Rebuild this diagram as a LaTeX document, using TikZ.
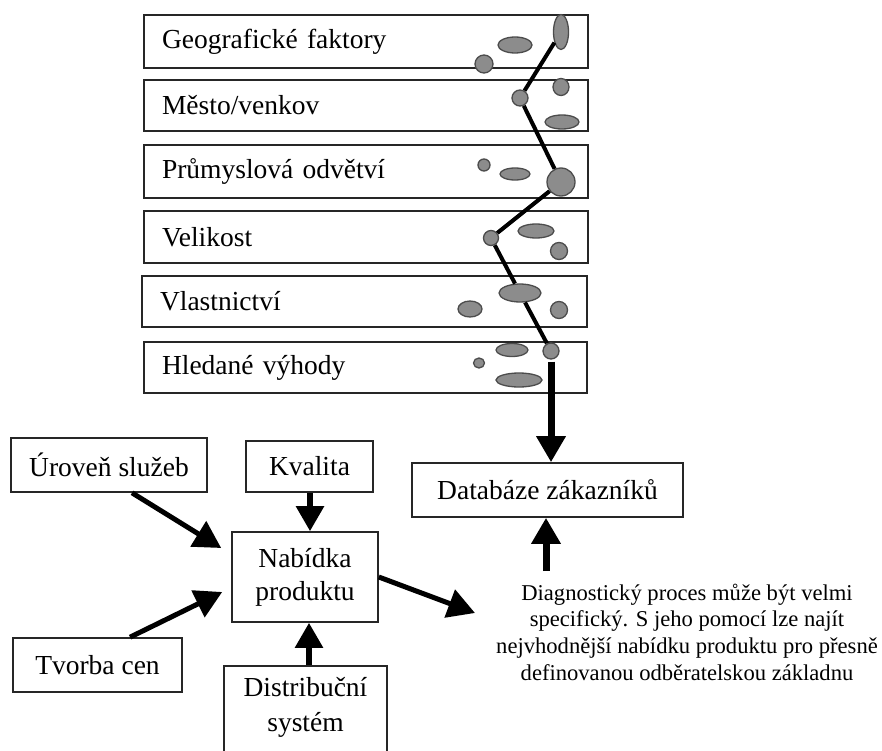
\documentclass[tikz,border=0pt]{standalone}
\usepackage{fontspec}
\setmainfont{Liberation Serif}
\usetikzlibrary{arrows.meta,shapes.geometric,calc}

\tikzset{
  box/.style={draw=black!85, line width=1.6pt, inner sep=0pt,
    font=\fontsize{27.5}{33}\selectfont, align=center},
  rowbox/.style={box, inner xsep=18pt, inner ysep=0pt, align=left},
  blob/.style={ellipse, draw=black!70, fill=black!45, line width=1.3pt,
    inner sep=0pt},
  chain/.style={line width=4pt, black},
  bigarrow/.style={line width=7pt, -{Triangle[length=26pt, width=28pt]}},
  midarrow/.style={line width=5.5pt, -{Triangle[length=25pt, width=27pt]}},
  slantarrow/.style={line width=5pt, -{Triangle[length=27pt, width=29pt]}},
  note/.style={font=\fontsize{22.6}{26.7}\selectfont, align=center}
}

\begin{document}
\begin{tikzpicture}[x=1pt, y=-1pt]
\useasboundingbox (0,0) rectangle (882,751);

% segmentation criteria
\node[rowbox, text width=408pt, minimum height=53pt] (geo) at (366,41.5) {Geografické faktory};
\node[rowbox, text width=408pt, minimum height=51pt] (mes) at (366,105.5) {Město/venkov};
\node[rowbox, text width=408pt, minimum height=53pt] (pru) at (366,171.5) {Průmyslová odvětví};
\node[rowbox, text width=408pt, minimum height=52pt] (vel) at (366,237) {Velikost};
\node[rowbox, text width=409pt, minimum height=51pt] (vla) at (364.5,301.5) {Vlastnictví};
\node[rowbox, text width=407pt, minimum height=51pt] (hle) at (365.5,367.5) {Hledané výhody};

% marks inside the criteria rows
\node[blob, minimum width=15pt, minimum height=35pt] (g1) at (561,32) {};
\node[blob, minimum width=34pt, minimum height=16pt] (g2) at (515,45) {};
\node[blob, circle, minimum size=18pt] (g3) at (484,64) {};

\node[blob, circle, minimum size=16pt] (m1) at (520,98) {};
\node[blob, minimum width=16pt, minimum height=17pt] (m2) at (561,87) {};
\node[blob, minimum width=34pt, minimum height=14pt] (m3) at (562,122) {};

\node[blob, circle, minimum size=12pt] (p1) at (484,165) {};
\node[blob, minimum width=30pt, minimum height=12pt] (p2) at (515,174) {};
\node[blob, circle, minimum size=28pt] (p3) at (561,182) {};

\node[blob, circle, minimum size=15pt] (v1) at (491,238) {};
\node[blob, minimum width=36pt, minimum height=14pt] (v2) at (536,231) {};
\node[blob, circle, minimum size=17pt] (v3) at (559,251) {};

\node[blob, minimum width=42pt, minimum height=18pt] (o1) at (520,293) {};
\node[blob, minimum width=24pt, minimum height=16pt] (o2) at (470,309) {};
\node[blob, circle, minimum size=17pt] (o3) at (559,310) {};

\node[blob, circle, minimum size=16pt] (h1) at (551,351) {};
\node[blob, minimum width=11pt, minimum height=10pt] (h2) at (479,363) {};
\node[blob, minimum width=32pt, minimum height=13pt] (h3) at (512,350) {};
\node[blob, minimum width=46pt, minimum height=14pt] (h4) at (519,380) {};

% path through the criteria
\draw[chain] (g1) -- (m1);
\draw[chain] (m1) -- (p3);
\draw[chain] (p3) -- (v1);
\draw[chain] (v1) -- (o1);
\draw[chain] (o1) -- (h1);

% customer database
\node[box, minimum width=271pt, minimum height=54pt] (db) at (547.5,490) {Databáze zákazníků};
\draw[bigarrow] ($(h1.south)+(0,2)$) -- (h1.south |- db.north);

% product offer and its inputs
\node[box, minimum width=196pt, minimum height=54pt] (uro) at (109,465) {Úroveň služeb};
\node[box, minimum width=127pt, minimum height=51pt] (kva) at (309.5,466.5) {Kvalita};
\node[box, minimum width=146pt, minimum height=90pt] (nab) at (305,577) {Nabídka\\produktu};
\node[box, minimum width=169pt, minimum height=54pt] (tvo) at (97.5,665) {Tvorba cen};
\node[box, minimum width=163pt, minimum height=100pt, anchor=north] (dis) at (305.5,665) {};
\node[font=\fontsize{27.5}{35}\selectfont, align=center] (distext) at (305.5,707) {Distribuční\\systém};

\draw[midarrow] (kva.south -| 310,0) -- (nab.north -| 310,0);
\draw[midarrow] (dis.north -| 309,0) -- (nab.south -| 309,0);
\draw[slantarrow] ($(uro.south)+(23,0)$) -- ($(nab.west)+(-10,-29)$);
\draw[slantarrow] ($(tvo.north)+(32.5,0)$) -- ($(nab.west)+(-9,15)$);

% diagnostic note
\node[note] (diag) at (687,632) {Diagnostický proces může být velmi\\specifický. S jeho pomocí lze najít\\nejvhodnější nabídku produktu pro přesně\\definovanou odběratelskou základnu};
\coordinate (notein) at (475,613);
\coordinate (noteup) at (546,571);
\draw[slantarrow] (nab.east) -- (notein);
\draw[bigarrow] (noteup) -- (noteup |- db.south);
\end{tikzpicture}
\end{document}
